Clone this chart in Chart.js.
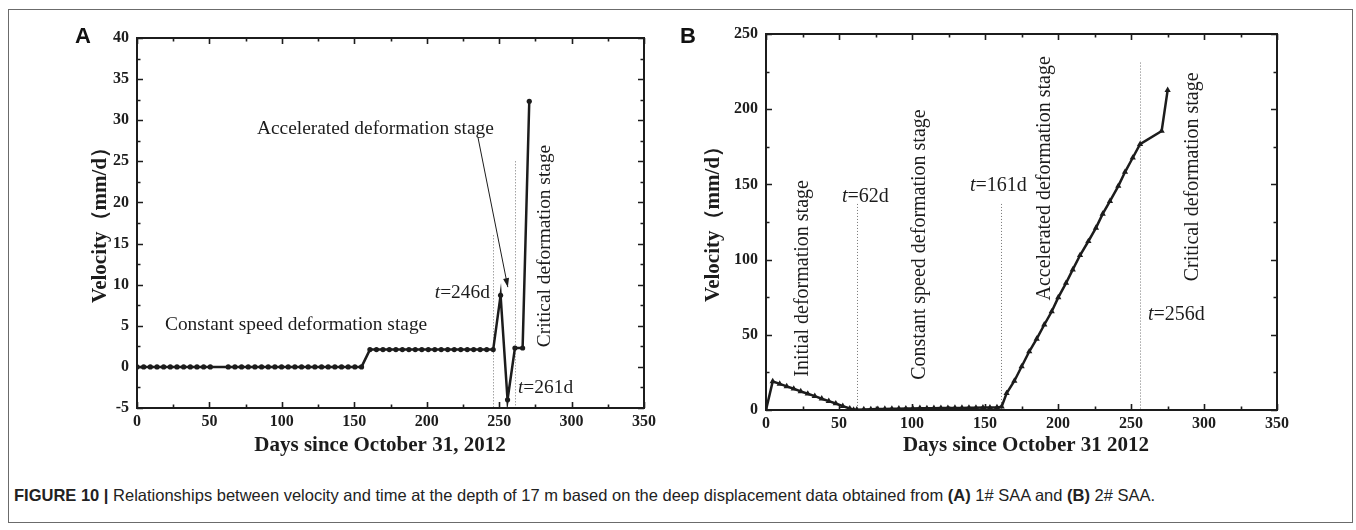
<!DOCTYPE html>
<html><head><meta charset="utf-8">
<script src="https://cdn.jsdelivr.net/npm/chart.js@4.4.0/dist/chart.umd.min.js"></script>
<style>
html,body{margin:0;padding:0;background:#fff;}
body{width:1356px;height:530px;position:relative;overflow:hidden;}
#frame{position:absolute;left:8px;top:9px;width:1345px;height:514px;border:1px solid #6b6b6b;box-sizing:border-box;}
#wrapA{position:absolute;left:0;top:0;width:690px;height:470px;}
#wrapB{position:absolute;left:680px;top:0;width:676px;height:470px;}
.plabel{position:absolute;font:bold 22px "Liberation Sans",Arial,sans-serif;color:#111;line-height:1;}
#caption{position:absolute;left:14px;top:486px;font:16.5px "Liberation Sans",Arial,sans-serif;color:#222;white-space:nowrap;}
#caption b{font-weight:bold;}
</style></head>
<body>
<div id="frame"></div>
<div id="wrapA"><canvas id="cA" width="690" height="470"></canvas></div>
<div id="wrapB"><canvas id="cB" width="676" height="470"></canvas></div>
<div class="plabel" style="left:75px;top:25px;">A</div>
<div class="plabel" style="left:680px;top:25px;">B</div>
<div id="caption"><b>FIGURE 10 |</b> Relationships between velocity and time at the depth of 17 m based on the deep displacement data obtained from <b>(A)</b> 1# SAA and <b>(B)</b> 2# SAA.</div>
<script>
// ---------- Data ----------
const daysA = [0,4.6,9.2,13.8,18.4,23,27.6,32.2,36.8,41.4,46,50.6,
  63,67.6,72.2,76.8,81.4,86,90.6,95.2,99.8,104.4,109,113.6,118.2,122.8,127.4,132,136.6,141.2,145.8,150.4,155,
  160.8,165.3,169.8,174.2,178.7,183.2,187.7,192.1,196.6,201.1,205.6,210,214.5,219,223.5,228,232.4,236.9,241.4,245.9,
  251,255.8,260.9,266.2,270.8];
const velA = [0,0,0,0,0,0,0,0,0,0,0,0,
  0,0,0,0,0,0,0,0,0,0,0,0,0,0,0,0,0,0,0,0,0,
  2.1,2.1,2.1,2.1,2.1,2.1,2.1,2.1,2.1,2.1,2.1,2.1,2.1,2.1,2.1,2.1,2.1,2.1,2.1,2.1,
  8.7,-4,2.3,2.3,32.3];
const daysB = [0,4.6,9.4,14.2,19,23.8,28.6,33.4,38.2,43,47.8,52.6,57.4,60,
  62.2,67,71.8,76.6,81.4,86.2,91,95.8,100.6,105.4,110.2,115,119.8,124.6,129.4,134.2,139,143.8,148.6,153.4,158.2,
  161.4,164.8,170.1,175.1,180.3,185.4,190.6,195.7,200.2,205.5,210.1,215.1,220.8,226,230.6,235.6,241.3,245.9,251.2,256.2,
  271,275.1];
const velB = [0,19,17.4,15.7,14.1,12.4,10.8,9.2,7.5,5.9,4.3,2.6,1.0,0.1,
  0.2,0.4,0.5,0.6,0.7,0.8,0.9,1.0,1.0,1.2,1.1,1.2,1.3,1.3,1.4,1.4,1.5,1.5,1.6,1.6,1.7,
  2.2,11.1,19.3,28.9,38.9,47.3,56.7,65.5,74.9,84.4,93.3,102.9,112.2,121.1,130.4,138.9,148.9,158.2,167.7,176.7,
  185.5,212.7];
const xTickLabels = [0,50,100,150,200,250,300,350];
const yTickLabelsA = [-5,0,5,10,15,20,25,30,35,40];
const yTickLabelsB = [0,50,100,150,200,250];
const stageLinesA = [246,261];
const stageLinesB = [62,161,256];

// ---------- Styling / layout ----------
const SERIF = '"Liberation Serif","Times New Roman",serif';
const INK = '#1c1c1c';

function inwardTicks(chart, xMajor, xMinorStep, yMajorStep, yMinorStep){
  const {ctx, chartArea:a, scales:{x,y}} = chart;
  ctx.save();
  ctx.strokeStyle = INK; ctx.lineWidth = 1.6;
  const maj = 6, mn = 3.5;
  for (let v = x.min; v <= x.max + 1e-9; v += xMinorStep){
    const px = Math.round(x.getPixelForValue(v)) + 0.5;
    const L = (Math.abs(v % xMajor) < 1e-6) ? maj : mn;
    ctx.beginPath(); ctx.moveTo(px, a.bottom); ctx.lineTo(px, a.bottom - L);
    ctx.moveTo(px, a.top); ctx.lineTo(px, a.top + L); ctx.stroke();
  }
  for (let v = y.min; v <= y.max + 1e-9; v += yMinorStep){
    const py = Math.round(y.getPixelForValue(v)) + 0.5;
    const L = (Math.abs((v - y.min) % yMajorStep) < 1e-6) ? maj : mn;
    ctx.beginPath(); ctx.moveTo(a.left, py); ctx.lineTo(a.left + L, py);
    ctx.moveTo(a.right, py); ctx.lineTo(a.right - L, py); ctx.stroke();
  }
  ctx.lineWidth = 2;
  ctx.strokeRect(a.left, a.top, a.right - a.left, a.bottom - a.top);
  ctx.restore();
}

function drawStageLines(chart, days, tops){
  const {ctx, scales:{x,y}} = chart;
  ctx.save();
  ctx.strokeStyle = '#777'; ctx.lineWidth = 1; ctx.setLineDash([1,2]);
  days.forEach((d,i)=>{
    const px = Math.round(x.getPixelForValue(d)) + 0.5;
    ctx.beginPath(); ctx.moveTo(px, y.getPixelForValue(tops[i])); ctx.lineTo(px, y.getPixelForValue(y.min)); ctx.stroke();
  });
  ctx.restore();
}

function text(ctx, s, px, py, size, align, rot){
  ctx.save();
  ctx.font = size + 'px ' + SERIF; ctx.fillStyle = INK;
  ctx.translate(px, py);
  if (rot) ctx.rotate(-Math.PI/2);
  ctx.textAlign = align || 'left'; ctx.textBaseline = 'middle';
  ctx.fillText(s, 0, 0);
  ctx.restore();
}
function tLabel(ctx, rest, px, py, size, align){
  ctx.save();
  ctx.fillStyle = INK; ctx.textBaseline = 'middle';
  ctx.font = 'italic ' + size + 'px ' + SERIF;
  const w1 = ctx.measureText('t').width;
  ctx.font = size + 'px ' + SERIF;
  const w2 = ctx.measureText(rest).width;
  let x0 = px;
  if (align === 'right') x0 = px - w1 - w2;
  ctx.font = 'italic ' + size + 'px ' + SERIF;
  ctx.textAlign = 'left';
  ctx.fillText('t', x0, py);
  ctx.font = size + 'px ' + SERIF;
  ctx.fillText(rest, x0 + w1, py);
  ctx.restore();
}
function axisTitles(chart, xTitle, xCenter, yCenterX){
  const {ctx, chartArea:a} = chart;
  ctx.save();
  ctx.fillStyle = INK;
  ctx.font = 'bold 21px ' + SERIF;
  ctx.textAlign = 'center'; ctx.textBaseline = 'middle';
  ctx.fillText(xTitle, xCenter, 446);
  ctx.translate(yCenterX, (a.top + a.bottom)/2 - 3);
  ctx.rotate(-Math.PI/2);
  ctx.font = 'bold 21px ' + SERIF;
  ctx.fillText('Velocity\uFF08mm/d\uFF09', 0, 0);
  ctx.restore();
}

function baseOptions(yMin, yMax, yTicks, yWidth, padRight, padTop, xHeight){
  return {
    responsive:false, animation:false, devicePixelRatio:1,
    layout:{padding:{left:0, right:padRight, top:padTop, bottom:0}},
    plugins:{legend:{display:false}, tooltip:{enabled:false}},
    scales:{
      x:{type:'linear', min:0, max:350,
         afterBuildTicks: s => { s.ticks = xTickLabels.map(v=>({value:v})); },
         afterFit: s => { s.height = xHeight; },
         grid:{display:false, drawTicks:false}, border:{display:false},
         ticks:{padding:4, color:INK, font:{family:SERIF, weight:'bold', size:16}, maxRotation:0}},
      y:{type:'linear', min:yMin, max:yMax,
         afterBuildTicks: s => { s.ticks = yTicks.map(v=>({value:v})); },
         afterFit: s => { s.width = yWidth; },
         grid:{display:false, drawTicks:false}, border:{display:false},
         ticks:{padding:8, color:INK, font:{family:SERIF, weight:'bold', size:16}}}
    }
  };
}

// ---------- Chart A ----------
const optA = baseOptions(-5, 40, yTickLabelsA, 137, 46, 38, 62);
new Chart(document.getElementById('cA'), {
  type:'scatter',
  data:{datasets:[{data: daysA.map((d,i)=>({x:d, y:velA[i]})), showLine:true,
    borderColor:INK, borderWidth:2.5, pointRadius:2.6, pointBackgroundColor:INK, pointBorderWidth:0,
    pointStyle:'circle', tension:0}]},
  options:optA,
  plugins:[{
    id:'decorA',
    beforeDatasetsDraw(chart){ drawStageLines(chart, stageLinesA, [16, 25]); },
    afterDraw(chart){
      const {ctx, scales:{x,y}} = chart;
      inwardTicks(chart, 50, 25, 5, 2.5);
      axisTitles(chart, 'Days since October 31, 2012', 380, 101);
      text(ctx, 'Accelerated deformation stage', x.getPixelForValue(82.8), y.getPixelForValue(28.9), 19.4, 'left');
      text(ctx, 'Constant speed deformation stage', x.getPixelForValue(19.3), y.getPixelForValue(5.1), 19.4, 'left');
      tLabel(ctx, '=246d', x.getPixelForValue(243.6), y.getPixelForValue(9), 19.4, 'right');
      tLabel(ctx, '=261d', x.getPixelForValue(263), y.getPixelForValue(-2.6), 19.4, 'left');
      text(ctx, 'Critical deformation stage', x.getPixelForValue(281.6), y.getPixelForValue(14.7), 19.4, 'center', true);
      // arrow
      const x1 = x.getPixelForValue(235.4), y1 = y.getPixelForValue(27.9);
      const x2 = x.getPixelForValue(256), y2 = y.getPixelForValue(9.7);
      ctx.save(); ctx.strokeStyle = INK; ctx.fillStyle = INK; ctx.lineWidth = 1;
      ctx.beginPath(); ctx.moveTo(x1,y1); ctx.lineTo(x2,y2); ctx.stroke();
      const ang = Math.atan2(y2-y1, x2-x1), L = 9, W = 3;
      ctx.beginPath(); ctx.moveTo(x2,y2);
      ctx.lineTo(x2 - L*Math.cos(ang) + W*Math.sin(ang), y2 - L*Math.sin(ang) - W*Math.cos(ang));
      ctx.lineTo(x2 - L*Math.cos(ang) - W*Math.sin(ang), y2 - L*Math.sin(ang) + W*Math.cos(ang));
      ctx.closePath(); ctx.fill(); ctx.restore();
    }
  }]
});

// ---------- Chart B ----------
const optB = baseOptions(0, 250, yTickLabelsB, 86, 676 - 597, 34, 60);
new Chart(document.getElementById('cB'), {
  type:'scatter',
  data:{datasets:[{data: daysB.map((d,i)=>({x:d, y:velB[i]})), showLine:true,
    borderColor:INK, borderWidth:2.5, pointRadius:3.6, pointBackgroundColor:INK, pointBorderColor:INK, pointBorderWidth:0,
    pointStyle:'triangle', tension:0}]},
  options:optB,
  plugins:[{
    id:'decorB',
    beforeDatasetsDraw(chart){ drawStageLines(chart, stageLinesB, [137, 137, 231]); },
    afterDraw(chart){
      const {ctx, scales:{x,y}} = chart;
      inwardTicks(chart, 50, 25, 50, 25);
      axisTitles(chart, 'Days since October 31 2012', 1026 - 680, 34);
      text(ctx, 'Initial deformation stage', x.getPixelForValue(25.3), y.getPixelForValue(87.5), 20, 'center', true);
      tLabel(ctx, '=62d', x.getPixelForValue(52), y.getPixelForValue(142), 20, 'left');
      text(ctx, 'Constant speed deformation stage', x.getPixelForValue(105.5), y.getPixelForValue(110), 20, 'center', true);
      tLabel(ctx, '=161d', x.getPixelForValue(139.7), y.getPixelForValue(149), 20, 'left');
      text(ctx, 'Accelerated deformation stage', x.getPixelForValue(191), y.getPixelForValue(154), 20, 'center', true);
      text(ctx, 'Critical deformation stage', x.getPixelForValue(292.5), y.getPixelForValue(155), 20, 'center', true);
      tLabel(ctx, '=256d', x.getPixelForValue(261.6), y.getPixelForValue(63.5), 20, 'left');
    }
  }]
});
</script>
</body></html>
